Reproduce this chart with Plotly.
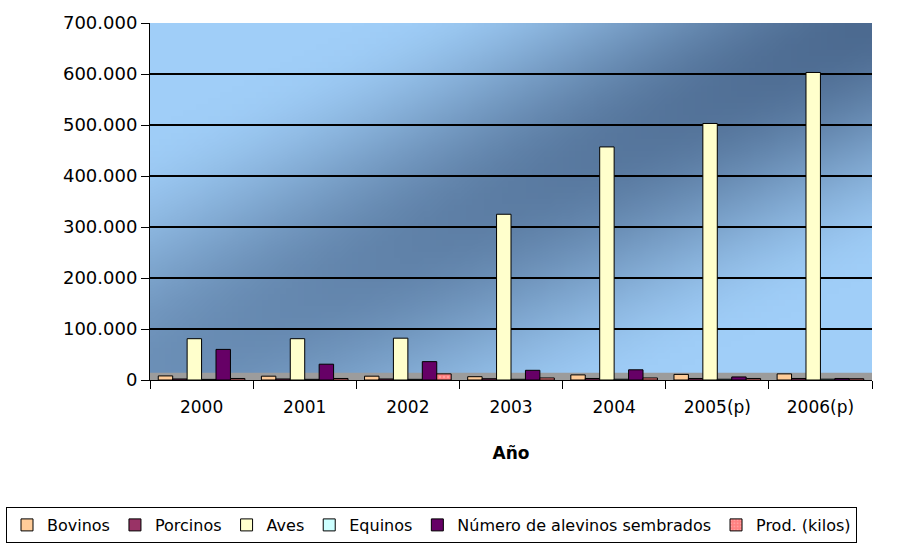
import base64
import struct
import zlib

import plotly.graph_objects as go

# ---- data -------------------------------------------------------------
years = ["2000", "2001", "2002", "2003", "2004", "2005(p)", "2006(p)"]

bovinos = [8000, 7500, 7500, 6500, 10000, 11000, 12000]
porcinos = [2000, 2000, 2000, 2500, 3000, 3000, 3000]
aves = [81000, 81000, 82000, 325000, 457000, 503000, 603000]
equinos = [1200, 1300, 1300, 1400, 1500, 1500, 1600]
alevinos = [60000, 31000, 36000, 19000, 20000, 6000, 3000]
prod_kilos = [3000, 3000, 12000, 4000, 4000, 3000, 2500]

series_names = ["Bovinos", "Porcinos", "Aves", "Equinos",
                "Número de alevinos sembrados", "Prod. (kilos)"]
series_values = [bovinos, porcinos, aves, equinos, alevinos, prod_kilos]
series_colors = ["#FFCC99", "#993366", "#FFFFCC", "#CCFFFF", "#660066", "#FF8080"]

FONT = "DejaVu Sans"

# plot-area geometry (pixels) used to place the legend below it
FIG_W, FIG_H = 924, 544
M_L, M_R, M_T, M_B = 150, 52, 23, 164
PLOT_W = FIG_W - M_L - M_R
PLOT_H = FIG_H - M_T - M_B


# ---- diagonal blue gradient for the chart wall (small PNG, stretched) ----
def gradient_png(w, h):
    light = (160, 206, 248)
    dark = (76, 106, 144)

    def smooth(a, b, x):
        t = min(1.0, max(0.0, (x - a) / (b - a)))
        return t * t * (3 - 2 * t)

    rows = []
    for j in range(h):
        v = 1.0 - j / (h - 1)          # 1 at top, 0 at bottom
        row = bytearray([0])
        for i in range(w):
            u = i / (w - 1)
            band = 1.0 - smooth(0.0, 0.7, abs(u - v))
            depth = band * (0.62 + 0.38 * (u + v) / 2)
            t = 1.0 - depth
            px = [int(dk + (lt - dk) * t) for dk, lt in zip(dark, light)]
            row.extend(px)
        rows.append(bytes(row))
    raw = b"".join(rows)

    def chunk(tag, data):
        c = struct.pack(">I", len(data)) + tag + data
        return c + struct.pack(">I", zlib.crc32(tag + data) & 0xFFFFFFFF)

    png = b"\x89PNG\r\n\x1a\n"
    png += chunk(b"IHDR", struct.pack(">IIBBBBB", w, h, 8, 2, 0, 0, 0))
    png += chunk(b"IDAT", zlib.compress(raw, 9))
    png += chunk(b"IEND", b"")
    return "data:image/png;base64," + base64.b64encode(png).decode()


fig = go.Figure()

for name, vals, col in zip(series_names, series_values, series_colors):
    marker = dict(color=col, line=dict(color="#000000", width=1))
    if name == "Prod. (kilos)":
        marker["pattern"] = dict(shape=".", fgcolor="#FFC0C0", size=4, solidity=0.3)
    fig.add_trace(go.Bar(x=years, y=vals, name=name, marker=marker))

fig.update_layout(
    width=FIG_W,
    height=FIG_H,
    margin=dict(l=M_L, r=M_R, t=M_T, b=M_B, autoexpand=False),
    paper_bgcolor="#FFFFFF",
    plot_bgcolor="rgba(0,0,0,0)",
    barmode="group",
    bargap=0.16,
    bargroupgap=0.0,
    separators=",.",
    font=dict(family=FONT, size=17, color="#000000"),
    showlegend=True,
    legend=dict(
        orientation="h",
        x=(6 - M_L) / PLOT_W, xanchor="left",
        y=-(507 - (M_T + PLOT_H)) / PLOT_H, yanchor="top",
        bgcolor="#FFFFFF",
        bordercolor="#000000",
        borderwidth=1,
        itemwidth=30,
        font=dict(family=FONT, size=16, color="#000000"),
        traceorder="normal",
    ),
    images=[dict(
        source=gradient_png(120, 60),
        xref="paper", yref="paper",
        x=0, y=1, sizex=1, sizey=1,
        xanchor="left", yanchor="top",
        sizing="stretch", layer="below",
    )],
    shapes=[dict(
        type="rect", xref="paper", yref="paper",
        x0=0, x1=1, y0=0, y1=0.02,
        fillcolor="#9C9C9C", line=dict(width=0), layer="below",
    )],
)

fig.update_xaxes(
    type="category",
    showline=True, linecolor="#000000", linewidth=1,
    ticks="outside", ticklen=8, tickcolor="#000000",
    tickson="boundaries",
    showgrid=False,
    ticklabelstandoff=12,
    tickfont=dict(family=FONT, size=17),
    title=dict(text="<b>Año</b>", font=dict(family=FONT, size=17), standoff=30),
)

fig.update_yaxes(
    range=[0, 700000],
    tickvals=[0, 100000, 200000, 300000, 400000, 500000, 600000, 700000],
    tickformat=",d",
    showline=True, linecolor="#000000", linewidth=1,
    ticks="outside", ticklen=8, tickcolor="#000000",
    showgrid=True, gridcolor="#000000", gridwidth=1.5,
    zeroline=False,
    tickfont=dict(family=FONT, size=18),
)

fig.write_html("out.html")
